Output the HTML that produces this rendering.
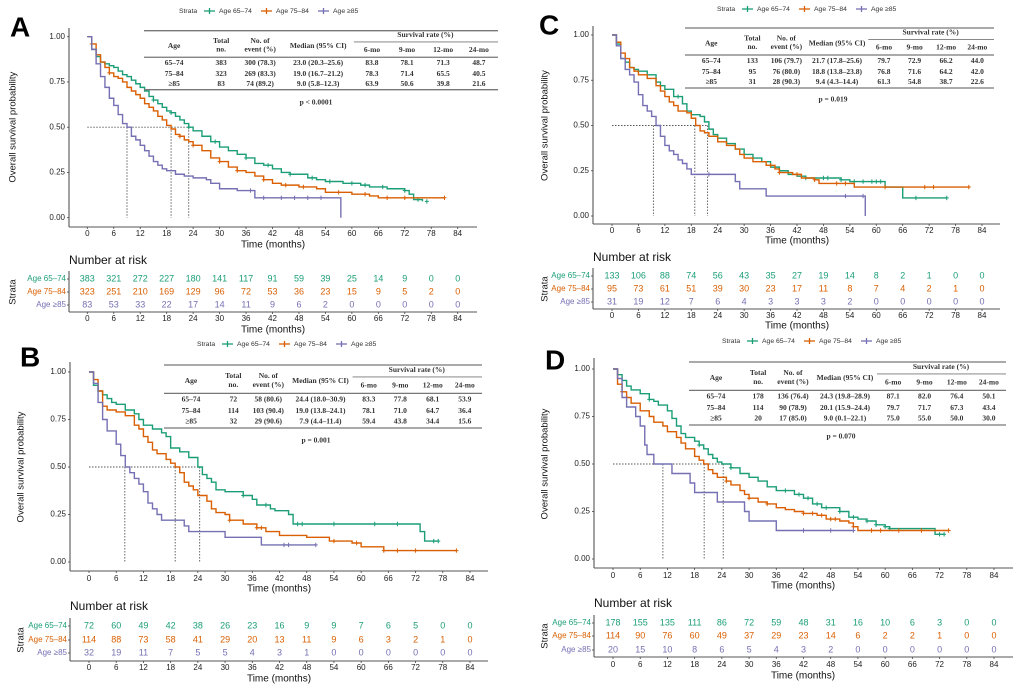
<!DOCTYPE html>
<html><head><meta charset="utf-8">
<style>
html,body{margin:0;padding:0;background:#fff;}
svg{display:block;}
.sans{font-family:"Liberation Sans","Noto Sans CJK JP",sans-serif;}
.serif{font-family:"Liberation Serif","Noto Serif CJK SC",serif;}
</style></head>
<body>
<svg id="fig" width="1020" height="690" viewBox="0 0 1020 690" xmlns="http://www.w3.org/2000/svg"></svg>
<script>
// ---------- DATA ----------
const strataNames = ['Age 65–74','Age 75–84','Age ≥85'];
const xTicks = [0,6,12,18,24,30,36,42,48,54,60,66,72,78,84];
const yTicks = [0,0.25,0.5,0.75,1];
const yTickLabels = ['0.00','0.25','0.50','0.75','1.00'];

// Panel A
const A_g_t = [0,1,2,3,4,5,6,7,8,9,10,11,12,13,14,15,16,17,18,19,20,21,22,23,24,26,28,30,32,34,36,38,40,42,44,46,48,50,52,54,56,58,60,62,64,66,68,70,72,73,74,76];
const A_g_s = [1,.93,.89,.86,.85,.84,.83,.81,.79,.78,.76,.74,.72,.70,.67,.65,.63,.61,.59,.58,.56,.54,.52,.50,.48,.45,.42,.39,.37,.35,.33,.30,.29,.27,.25,.24,.24,.22,.21,.20,.20,.19,.19,.18,.17,.17,.16,.16,.15,.13,.10,.09];
const A_o_t = [0,1,2,3,4,5,6,7,8,9,10,11,12,13,14,15,16,17,18,19,20,21,22,23,24,26,28,30,32,34,36,38,40,42,44,46,48,50,52,54,56,60,64,66,81];
const A_o_s = [1,.96,.90,.86,.83,.80,.78,.77,.75,.72,.70,.68,.66,.63,.61,.59,.56,.54,.51,.49,.46,.45,.43,.42,.40,.37,.33,.31,.28,.26,.25,.23,.21,.19,.18,.18,.17,.17,.16,.14,.14,.13,.12,.11,.11];
const A_p_t = [0,1,2,3,4,5,6,7,8,9,10,11,12,13,14,15,16,17,18,20,22,24,27,28,30,34,38,57.5,57.5];
const A_p_s = [1,.93,.85,.78,.72,.66,.62,.57,.52,.50,.45,.43,.40,.37,.34,.31,.29,.27,.26,.24,.23,.22,.21,.19,.16,.15,.11,.11,0];
const A_g_c = [15,19,23,29,36,41,46,51,55,60,63,67,72,75,77];
const A_o_c = [1,5,21,24,30,34,40,45,49,57,63,68,72,81];
const A_p_c = [37,40,44,47,50,53];
const A_med = [23.0,19.0,9.0];
const A_tab = [['65–74','383','300 (78.3)','23.0 (20.3–25.6)','83.8','78.1','71.3','48.7'],['75–84','323','269 (83.3)','19.0 (16.7–21.2)','78.3','71.4','65.5','40.5'],['≥85','83','74 (89.2)','9.0 (5.8–12.3)','63.9','50.6','39.8','21.6']];
const A_risk_g = [383,321,272,227,180,141,117,91,59,39,25,14,9,0,0];
const A_risk_o = [323,251,210,169,129,96,72,53,36,23,15,9,5,2,0];
const A_risk_p = [83,53,33,22,17,14,11,9,6,2,0,0,0,0,0];

// Panel B
const B_g_t = [0,1,2,3,4,5,6,8,10,11,12,14,16,17,18,20,22,24,25,26,27,28,30,34,36,37,40,41,44,45,72,73,74,77];
const B_g_s = [1,.93,.90,.88,.86,.84,.83,.80,.78,.75,.72,.70,.68,.66,.60,.58,.55,.50,.46,.44,.42,.38,.37,.35,.33,.30,.28,.27,.25,.20,.20,.16,.11,.11];
const B_o_t = [0,1,2,3,4,6,8,10,11,12,13,14,15,17,18,19,20,21,22,23,24,26,27,28,30,31,34,37,39,42,48,53,58,60,65,81];
const B_o_s = [1,.96,.90,.82,.80,.79,.77,.72,.70,.66,.63,.59,.57,.54,.52,.50,.47,.42,.40,.38,.35,.32,.28,.26,.25,.22,.20,.18,.16,.14,.13,.11,.10,.08,.06,.06];
const B_p_t = [0,1,2,3,4,6,7,8,9,10,11,12,13,14,15,16,18,21,22,30,38,50];
const B_p_s = [1,.94,.84,.75,.69,.62,.56,.50,.47,.44,.41,.37,.31,.28,.25,.22,.22,.19,.16,.13,.09,.09];
const B_g_c = [34,39,46,47,54,63,68,76,77];
const B_o_c = [31,37,38,54,59,65,68,72,81];
const B_p_c = [43,44,50];
const B_med = [24.4,19.0,7.9];
const B_tab = [['65–74','72','58 (80.6)','24.4 (18.0–30.9)','83.3','77.8','68.1','53.9'],['75–84','114','103 (90.4)','19.0 (13.8–24.1)','78.1','71.0','64.7','36.4'],['≥85','32','29 (90.6)','7.9 (4.4–11.4)','59.4','43.8','34.4','15.6']];
const B_risk_g = [72,60,49,42,38,26,23,16,9,9,7,6,5,0,0];
const B_risk_o = [114,88,73,58,41,29,20,13,11,9,6,3,2,1,0];
const B_risk_p = [32,19,11,7,5,5,4,3,1,0,0,0,0,0,0];

// Panel C
const C_g_t = [0,1,2,3,4,5,6,8,10,11,12,14,16,17,18,20,21,22,23,24,26,28,30,32,34,36,38,40,42,44,48,52,54,61,62,65,66,76];
const C_g_s = [1,.95,.87,.85,.82,.81,.80,.78,.74,.72,.70,.66,.62,.58,.56,.55,.52,.48,.45,.43,.40,.37,.34,.32,.30,.27,.25,.23,.22,.21,.21,.20,.19,.19,.16,.16,.10,.10];
const C_o_t = [0,1,2,3,4,5,6,8,10,11,12,13,14,15,17,18,19,20,21,22,24,26,28,29,30,32,35,37,38,41,43,46,47,54,55,81];
const C_o_s = [1,.96,.90,.87,.82,.80,.78,.76,.72,.69,.66,.63,.61,.58,.57,.54,.50,.47,.46,.44,.41,.39,.37,.34,.32,.30,.28,.26,.24,.23,.21,.20,.18,.18,.16,.16];
const C_p_t = [0,1,2,3,4,5,6,7,8,9,10,11,12,13,14,15,16,17,18,28,29,35,57.5,57.5];
const C_p_s = [1,.94,.87,.81,.78,.74,.67,.61,.58,.55,.50,.44,.39,.36,.34,.31,.29,.26,.23,.19,.15,.11,.11,0];
const C_g_c = [15,44,48,49,52,55,57,59,60,61,69,76];
const C_o_c = [36,38,42,46,51,53,62,71,73,81];
const C_p_c = [22,53,57];
const C_med = [21.7,18.8,9.4];
const C_tab = [['65–74','133','106 (79.7)','21.7 (17.8–25.6)','79.7','72.9','66.2','44.0'],['75–84','95','76 (80.0)','18.8 (13.8–23.8)','76.8','71.6','64.2','42.0'],['≥85','31','28 (90.3)','9.4 (4.3–14.4)','61.3','54.8','38.7','22.6']];
const C_risk_g = [133,106,88,74,56,43,35,27,19,14,8,2,1,0,0];
const C_risk_o = [95,73,61,51,39,30,23,17,11,8,7,4,2,1,0];
const C_risk_p = [31,19,12,7,6,4,3,3,3,2,0,0,0,0,0];

// Panel D
const D_g_t = [0,1,2,3,4,6,8,9,10,12,13,14,15,16,18,19,20,21,22,23,24,26,28,30,32,34,36,40,42,44,46,48,50,52,54,56,58,60,61,70,71,73];
const D_g_s = [1,.97,.94,.91,.89,.87,.84,.83,.81,.78,.74,.70,.66,.64,.62,.60,.58,.55,.53,.51,.50,.48,.45,.43,.41,.38,.36,.34,.32,.29,.27,.27,.25,.22,.21,.20,.18,.17,.16,.16,.13,.13];
const D_o_t = [0,1,2,3,4,6,8,9,11,12,14,15,16,18,19,20,21,22,23,25,26,28,29,30,32,34,36,38,40,42,45,47,50,52,53,54,74];
const D_o_s = [1,.92,.88,.85,.82,.78,.75,.72,.70,.67,.64,.61,.58,.54,.52,.50,.47,.45,.43,.41,.39,.36,.34,.32,.30,.29,.27,.26,.25,.24,.23,.21,.20,.19,.17,.15,.15];
const D_p_t = [0,1,2,3,5,6,7,7.5,9,13,17,18,23,29,30,36,53];
const D_p_s = [1,.95,.85,.80,.75,.70,.60,.55,.50,.45,.40,.35,.30,.25,.20,.15,.15];
const D_g_c = [8,19,26,38,41,43,45,47,50,53,56,58,60,61,72,73];
const D_o_c = [2,25,30,34,42,44,46,48,49,53,57,59,63,68,74];
const D_p_c = [42,48,53];
const D_med = [24.3,20.1,11.0];
const D_tab = [['65–74','178','136 (76.4)','24.3 (19.8–28.9)','87.1','82.0','76.4','50.1'],['75–84','114','90 (78.9)','20.1 (15.9–24.4)','79.7','71.7','67.3','43.4'],['≥85','20','17 (85.0)','9.0 (0.1–22.1)','75.0','55.0','50.0','30.0']];
const D_risk_g = [178,155,135,111,86,72,59,48,31,16,10,6,3,0,0];
const D_risk_o = [114,90,76,60,49,37,29,23,14,6,2,2,1,0,0];
const D_risk_p = [20,15,10,8,6,5,4,3,2,0,0,0,0,0,0];

const colors = ['#1b9e77','#d95f02','#7570b3'];
const NS = 'http://www.w3.org/2000/svg';
const svg = document.getElementById('fig');

function mk(tag, parent, name, inter, attrs){
  const el = document.createElementNS(NS, tag);
  
  
  for (const k in attrs) el.setAttribute(k, attrs[k]);
  parent.appendChild(el);
  return el;
}
function txt(parent, name, x, y, s, size, opts){
  opts = opts || {};
  const el = mk('text', parent, name, false, {x:x, y:y, 'font-size':size, 'dominant-baseline':'middle',
    'text-anchor':opts.anchor||'middle', fill:opts.fill||'#222', class:opts.cls||'sans',
    'font-weight':opts.weight||'normal'});
  if (opts.transform) el.setAttribute('transform', opts.transform);
  el.textContent = s;
  return el;
}

function panel(cfg, series, censors, medians, tab, risk){
  const g = mk('g', svg, 'panel-'+cfg.id, false, {});
  const X = t => cfg.x0 + (cfg.x84 - cfg.x0) * t / 84;
  const Y = s => cfg.y0 - (cfg.y0 - cfg.y1) * s;
  txt(g, 'panel-label-'+cfg.id, cfg.lx, cfg.ly, cfg.id, 28, {weight:'bold', anchor:'start', fill:'#000'});
  const lg = mk('g', g, 'legend', false, {});
  txt(lg, 'legend-title', cfg.legX, cfg.legY, 'Strata', 6.8, {anchor:'start', fill:'#333'});
  const offs = [25, 82, 139];
  strataNames.forEach((n,i)=>{
    const sx = cfg.legX + offs[i];
    mk('line', lg, 'legend-swatch', false, {x1:sx, y1:cfg.legY, x2:sx+11, y2:cfg.legY, stroke:colors[i], 'stroke-width':1.3});
    mk('line', lg, 'legend-swatch-tick', false, {x1:sx+5.5, y1:cfg.legY-3, x2:sx+5.5, y2:cfg.legY+3, stroke:colors[i], 'stroke-width':1.3});
    txt(lg, 'legend-entry', sx+15, cfg.legY, n, 6.8, {anchor:'start', fill:'#333'});
  });
  mk('line', g, 'y-axis', false, {x1:cfg.ax, y1:cfg.top, x2:cfg.ax, y2:cfg.axisY, stroke:'#555', 'stroke-width':1.1});
  mk('line', g, 'x-axis', false, {x1:cfg.ax, y1:cfg.axisY, x2:cfg.right, y2:cfg.axisY, stroke:'#555', 'stroke-width':1.1});
  yTicks.forEach((v,i)=>{
    mk('line', g, 'y-tick', false, {x1:cfg.ax-2, y1:Y(v), x2:cfg.ax, y2:Y(v), stroke:'#444', 'stroke-width':0.8});
    txt(g, 'y-tick-label', cfg.ax-4, Y(v), yTickLabels[i], 8, {anchor:'end', fill:'#222'});
  });
  xTicks.forEach(v=>{
    mk('line', g, 'x-tick', false, {x1:X(v), y1:cfg.axisY, x2:X(v), y2:cfg.axisY+2, stroke:'#444', 'stroke-width':0.8});
    txt(g, 'x-tick-label', X(v), cfg.tickY, String(v), 8, {fill:'#222'});
  });
  txt(g, 'x-axis-title', cfg.timeX, cfg.timeY, 'Time (months)', 10, {fill:'#111'});
  const yc = (cfg.y0 + cfg.y1)/2;
  txt(g, 'y-axis-title', cfg.ylx, yc, 'Overall  survival probability', 9.5, {fill:'#111', transform:'rotate(-90 '+cfg.ylx+' '+yc+')'});
  const mmax = Math.max(...medians);
  mk('line', g, 'median-reference-h', false, {x1:X(0), y1:Y(0.5), x2:X(mmax), y2:Y(0.5), stroke:'#555', 'stroke-width':0.9, 'stroke-dasharray':'1.5,1.5'});
  medians.forEach(m=>{
    mk('line', g, 'median-reference-v', false, {x1:X(m), y1:Y(0.5), x2:X(m), y2:Y(0), stroke:'#555', 'stroke-width':0.9, 'stroke-dasharray':'1.5,1.5'});
  });
  series.forEach((sr,i)=>{
    const [ts, ss] = sr;
    let d = 'M'+X(ts[0])+','+Y(ss[0]);
    for (let k=1;k<ts.length;k++){ d += ' H'+X(ts[k])+' V'+Y(ss[k]); }
    mk('path', g, 'km-curve-'+['65-74','75-84','85plus'][i], false, {d:d, fill:'none', stroke:colors[i], 'stroke-width':1.4});
    censors[i].forEach(c=>{
      let s = ss[0];
      for (let k=0;k<ts.length;k++){ if (ts[k] <= c) s = ss[k]; }
      const cx = X(c), cy = Y(s);
      mk('path', g, 'censor-mark', false, {d:'M'+(cx-2)+','+cy+' H'+(cx+2)+' M'+cx+','+(cy-2.2)+' V'+(cy+2.2), stroke:colors[i], 'stroke-width':1, fill:'none'});
    });
  });
  const tb = mk('g', g, 'summary-table', false, {});
  const tx = cfg.tx, tw = cfg.tw, tt = cfg.tt, th = cfg.th;
  const fr = [.085,.218,.328,.492,.644,.743,.845,.946];
  const fy = f => tt + th*f;
  mk('line', tb, 'table-top-rule', false, {x1:tx, y1:tt, x2:tx+tw, y2:tt, stroke:'#777', 'stroke-width':1.3});
  mk('line', tb, 'table-sub-rule', false, {x1:tx+tw*.593, y1:fy(.19), x2:tx+tw, y2:fy(.19), stroke:'#777', 'stroke-width':0.9});
  mk('line', tb, 'table-header-rule', false, {x1:tx, y1:fy(.45), x2:tx+tw, y2:fy(.45), stroke:'#777', 'stroke-width':1.3});
  mk('line', tb, 'table-bottom-rule', false, {x1:tx, y1:tt+th, x2:tx+tw, y2:tt+th, stroke:'#777', 'stroke-width':1.3});
  const fs = 7.5, so = {cls:'serif', weight:'bold', fill:'#333'};
  txt(tb, 'table-header', tx+tw*fr[0], fy(.26), 'Age', fs, so);
  txt(tb, 'table-header', tx+tw*fr[1], fy(.18), 'Total', fs, so);
  txt(tb, 'table-header', tx+tw*fr[1], fy(.32), 'no.', fs, so);
  txt(tb, 'table-header', tx+tw*fr[2], fy(.18), 'No. of', fs, so);
  txt(tb, 'table-header', tx+tw*fr[2], fy(.32), 'event (%)', fs, so);
  txt(tb, 'table-header', tx+tw*fr[3], fy(.26), 'Median (95% CI)', fs, so);
  txt(tb, 'table-header', tx+tw*.795, fy(.08), 'Survival rate (%)', fs, so);
  ['6-mo','9-mo','12-mo','24-mo'].forEach((h,i)=>txt(tb, 'table-header', tx+tw*fr[4+i], fy(.33), h, fs, so));
  const ry = [.555,.735,.905];
  tab.forEach((row,r)=>row.forEach((c,j)=>txt(tb, 'table-cell', tx+tw*fr[j], fy(ry[r]), c, fs, so)));
  txt(g, 'p-value', cfg.px, cfg.py, cfg.ptext, 7.5, {cls:'serif', weight:'bold', fill:'#333'});
  const rg = mk('g', g, 'risk-table', false, {});
  txt(rg, 'risk-table-title', cfg.ax, cfg.nrY, 'Number at risk', 12, {anchor:'start', fill:'#111'});
  mk('line', rg, 'risk-y-axis', false, {x1:cfg.ax, y1:cfg.riskRows[0]-8, x2:cfg.ax, y2:cfg.riskAxis, stroke:'#555', 'stroke-width':1.1});
  mk('line', rg, 'risk-x-axis', false, {x1:cfg.ax, y1:cfg.riskAxis, x2:cfg.right, y2:cfg.riskAxis, stroke:'#555', 'stroke-width':1.1});
  const ryc = cfg.riskRows[1];
  txt(rg, 'risk-strata-title', cfg.slx, ryc, 'Strata', 9.5, {fill:'#111', transform:'rotate(-90 '+cfg.slx+' '+ryc+')'});
  risk.forEach((arr,i)=>{
    const yy = cfg.riskRows[i];
    txt(rg, 'risk-row-label', cfg.ax-3, yy, strataNames[i], 8, {anchor:'end', fill:colors[i]});
    mk('line', rg, 'risk-y-tick', false, {x1:cfg.ax-2, y1:yy, x2:cfg.ax, y2:yy, stroke:'#444', 'stroke-width':0.8});
    arr.forEach((v,k)=>txt(rg, 'risk-count', X(xTicks[k]), yy, String(v), 9, {fill:colors[i]}));
  });
  xTicks.forEach(v=>{
    mk('line', rg, 'risk-x-tick', false, {x1:X(v), y1:cfg.riskAxis, x2:X(v), y2:cfg.riskAxis+2, stroke:'#444', 'stroke-width':0.8});
    txt(rg, 'risk-x-tick-label', X(v), cfg.riskTickY, String(v), 8, {fill:'#222'});
  });
  txt(rg, 'risk-x-axis-title', cfg.timeX, cfg.riskTimeY, 'Time (months)', 10, {fill:'#111'});
}

panel({id:'A', lx:10, ly:29, legX:179, legY:11, ax:69, x0:87.3, x84:457.7, y1:36.7, y0:217.7, top:28, axisY:227, right:477,
  tickY:234, timeY:245, timeX:273, ylx:13, tx:144, tw:354, tt:30.7, th:59, px:316, py:103, ptext:'p < 0.0001',
  nrY:261, riskRows:[279,292,305], riskAxis:312, riskTickY:319, riskTimeY:330, slx:13},
  [[A_g_t,A_g_s],[A_o_t,A_o_s],[A_p_t,A_p_s]], [A_g_c,A_o_c,A_p_c], A_med, A_tab, [A_risk_g,A_risk_o,A_risk_p]);

panel({id:'B', lx:20, ly:359, legX:197, legY:344, ax:70, x0:89, x84:470, y1:372, y0:562, top:362, axisY:571, right:488,
  tickY:579, timeY:589, timeX:279, ylx:21, tx:164, tw:318, tt:365, th:63, px:316, py:441, ptext:'p = 0.001',
  nrY:607, riskRows:[626,640,653], riskAxis:661, riskTickY:668, riskTimeY:679, slx:21},
  [[B_g_t,B_g_s],[B_o_t,B_o_s],[B_p_t,B_p_s]], [B_g_c,B_o_c,B_p_c], B_med, B_tab, [B_risk_g,B_risk_o,B_risk_p]);

panel({id:'C', lx:539, ly:27, legX:717, legY:9, ax:593, x0:612, x84:982, y1:35, y0:216, top:26, axisY:224, right:1000,
  tickY:231, timeY:241, timeX:797, ylx:545, tx:685, tw:309, tt:28, th:60, px:833, py:100, ptext:'p = 0.019',
  nrY:258, riskRows:[276,289,302], riskAxis:309, riskTickY:316, riskTimeY:326, slx:545},
  [[C_g_t,C_g_s],[C_o_t,C_o_s],[C_p_t,C_p_s]], [C_g_c,C_o_c,C_p_c], C_med, C_tab, [C_risk_g,C_risk_o,C_risk_p]);

panel({id:'D', lx:545, ly:362, legX:722, legY:341, ax:594, x0:613, x84:994, y1:369, y0:559, top:358, axisY:568, right:1013,
  tickY:576, timeY:586, timeX:803, ylx:545, tx:689, tw:317, tt:362, th:63, px:841, py:437, ptext:'p = 0.070',
  nrY:604, riskRows:[623,636,650], riskAxis:657, riskTickY:665, riskTimeY:676, slx:545},
  [[D_g_t,D_g_s],[D_o_t,D_o_s],[D_p_t,D_p_s]], [D_g_c,D_o_c,D_p_c], D_med, D_tab, [D_risk_g,D_risk_o,D_risk_p]);
</script>
</body></html>
